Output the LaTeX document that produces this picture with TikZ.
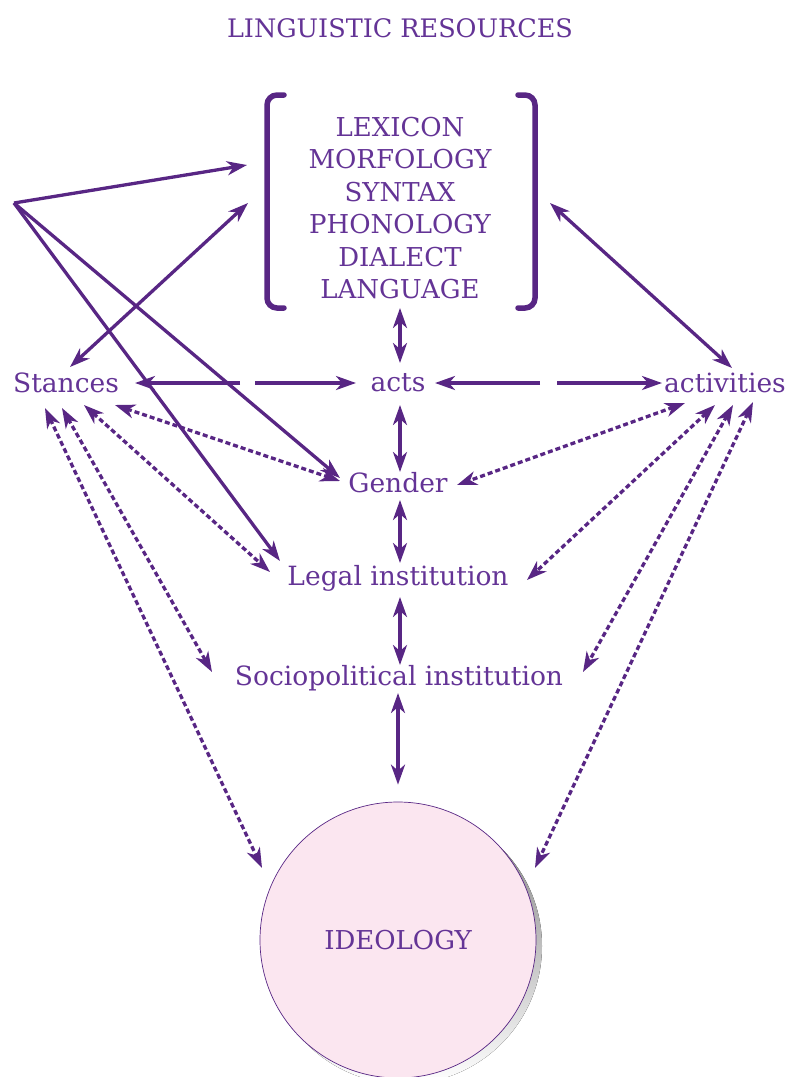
\documentclass[tikz,border=0pt]{standalone}
\usepackage{fontspec}
\setmainfont{DejaVu Serif}
\usetikzlibrary{arrows.meta,calc}
\definecolor{lin}{RGB}{88,38,132}
\definecolor{txt}{RGB}{100,52,150}
\definecolor{pinkfill}{RGB}{251,230,240}
\definecolor{shade}{RGB}{212,192,230}
\begin{document}
\begin{tikzpicture}[x=1pt,y=-1pt,
  lbl/.style={text=txt,font=\fontsize{26.5}{30}\selectfont,inner sep=0pt},
  tip/.tip={Stealth[length=20pt,width=14pt,inset=6pt]},
  solidarr/.style={draw=lin,line width=3.3pt,-tip},
  dbl/.style={draw=lin,line width=3.3pt,tip-tip},
  dashdbl/.style={dbl,dash pattern=on 5pt off 3pt},
  brk/.style={draw=lin,line width=5.5pt,rounded corners=10pt,line cap=round}]
\useasboundingbox (0,0) rectangle (788,1077);
% title
\node[lbl,font=\fontsize{25.5}{30}\selectfont] (title) at (400,28) {LINGUISTIC RESOURCES};
% resources block
\node[lbl,align=center,font=\fontsize{26}{32.5}\selectfont] (res) at (400,208)
  {LEXICON\\MORFOLOGY\\SYNTAX\\PHONOLOGY\\DIALECT\\LANGUAGE};
\draw[brk] (284,95) -- (267,95) -- (267,308) -- (284,308);
\draw[brk] (518,95) -- (535,95) -- (535,308) -- (518,308);
% nodes
\node[lbl] (stances) at (66,383) {Stances};
\node[lbl] (acts) at (398,383) {acts};
\node[lbl] (activities) at (725,383) {activities};
\node[lbl] (gender) at (398,483) {Gender};
\node[lbl] (legal) at (398,578) {Legal institution};
\node[lbl] (socio) at (399,678) {Sociopolitical institution};
% ideology
\fill[shade] (404,946) circle (138);
\node[circle,draw=lin,line width=0.7pt,fill=pinkfill,minimum size=276pt,inner sep=0pt,
  text=txt,font=\fontsize{26}{30}\selectfont] (ideo) at (398,940) {IDEOLOGY};
% origin point
\coordinate (O) at (14,203);
\draw[solidarr] (O) -- ($(res.center)+(-153,-43)$);
\draw[solidarr] (O) -- ($(gender.center)+(-58,-5)$);
\draw[solidarr] (O) -- ($(legal.center)+(-118,-17)$);
% stances - resources
\draw[dbl] ($(stances.center)+(4,-16)$) -- ($(res.center)+(-152,-5)$);
% resources - activities
\draw[dbl] ($(res.center)+(150,-5)$) -- ($(activities.center)+(7,-15)$);
% horizontal with gaps
\coordinate (g1) at (240,383);
\coordinate (g2) at (255,383);
\coordinate (g3) at (540,383);
\coordinate (g4) at (557,383);
\draw[solidarr] (g1) -- ($(stances.center)+(69,0)$);
\draw[solidarr] (g2) -- ($(acts.center)+(-42,0)$);
\draw[solidarr] (g3) -- ($(acts.center)+(37,0)$);
\draw[solidarr] (g4) -- ($(activities.center)+(-63,0)$);
% vertical chain
\draw[dbl] ($(res.center)+(0,100)$) -- ($(acts.center)+(2,-20)$);
\draw[dbl] ($(acts.center)+(2,22)$) -- ($(gender.center)+(2,-11)$);
\draw[dbl] ($(gender.center)+(2,17)$) -- ($(legal.center)+(2,-15)$);
\draw[dbl] ($(legal.center)+(2,19)$) -- ($(socio.center)+(1,-13)$);
\draw[dbl] ($(socio.center)+(-1,15)$) -- ($(ideo.north)+(0,-17)$);
% dashed from stances
\draw[dashdbl] ($(stances.center)+(49,22)$) -- ($(gender.center)+(-58,-2)$);
\draw[dashdbl] ($(stances.center)+(18,22)$) -- ($(legal.center)+(-128,-6)$);
\draw[dashdbl] ($(stances.center)+(-4,25)$) -- ($(socio.center)+(-187,-6)$);
\draw[dashdbl] ($(stances.center)+(-21,25)$) -- ($(ideo.center)+(-136,-72)$);
% dashed from activities
\draw[dashdbl] ($(activities.center)+(-40,20)$) -- ($(gender.center)+(59,2)$);
\draw[dashdbl] ($(activities.center)+(-10,22)$) -- ($(legal.center)+(129,2)$);
\draw[dashdbl] ($(activities.center)+(8,22)$) -- ($(socio.center)+(184,-6)$);
\draw[dashdbl] ($(activities.center)+(28,19)$) -- ($(ideo.center)+(137,-72)$);
\end{tikzpicture}
\end{document}
